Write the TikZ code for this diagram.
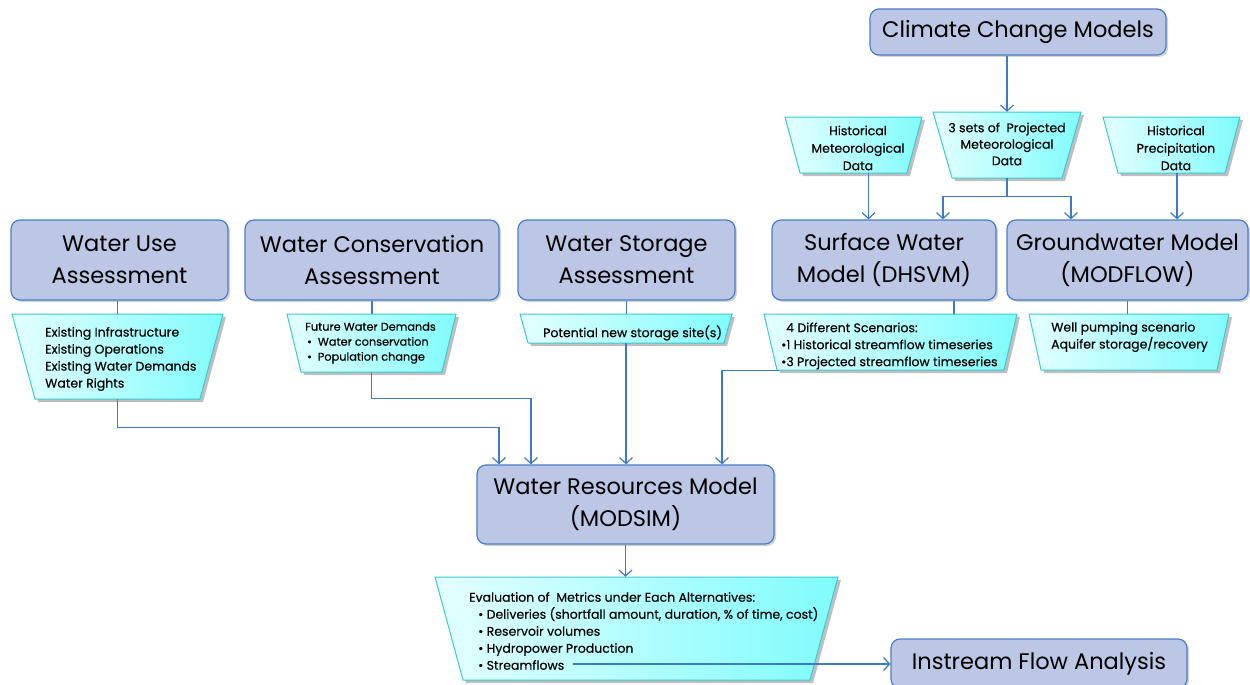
\documentclass[tikz,border=0pt]{standalone}
\usepackage{fontspec}
\setmainfont{Poppins}
\newfontfamily\smallfont[FakeBold=0.4]{Poppins}
\usetikzlibrary{arrows.meta,shadows,calc}
\definecolor{boxfill}{HTML}{BCC6E5}
\definecolor{boxline}{HTML}{4A7EC8}
\definecolor{connc}{HTML}{3A7BCB}
\definecolor{trapL}{HTML}{E4FFFF}
\definecolor{trapR}{HTML}{80FCFC}
\definecolor{trapline}{HTML}{3CC8D2}
\tikzset{
 box/.style={draw=boxline, line width=1.2pt, fill=boxfill, rounded corners=9pt,
   drop shadow={opacity=0.35, shadow xshift=2pt, shadow yshift=-2pt},
   inner sep=0pt, align=center, font=\fontsize{22.5}{32}\selectfont},
 conn/.style={draw=connc, line width=1.2pt},
 arr/.style={conn, -{Straight Barb[length=6pt,width=13pt,line width=1.2pt]}},
 small/.style={font=\smallfont\fontsize{12.5}{17}\selectfont, align=left, inner sep=0pt},
}
\newcommand\mytrap[6]{%
 \fill[black,opacity=0.25] (#2+3,#3+3) -- (#4+3,#3+3) -- (#4-#6+3,#5+3) -- (#2+#6+3,#5+3) -- cycle;
 \path[draw=trapline, line width=1pt, left color=trapL, right color=trapR]
   (#2,#3) -- (#4,#3) -- (#4-#6,#5) -- (#2+#6,#5) -- cycle;
 \node[inner sep=0pt, minimum width=#4-#2, minimum height=#5-#3] (#1) at ({(#2+#4)/2},{(#3+#5)/2}) {};
}
\begin{document}
\begin{tikzpicture}[x=1pt,y=-1pt]
\useasboundingbox (0,0) rectangle (1250,685);
% boxes
\node[box, minimum width=296, minimum height=46] (clim) at (1018,32) {Climate Change Models};
\node[box, minimum width=217, minimum height=80] (wuse) at (119.5,260) {Water Use\\Assessment};
\node[box, minimum width=254, minimum height=80] (wcons) at (372,260) {Water Conservation\\Assessment};
\node[box, minimum width=217, minimum height=80] (wstor) at (626.5,260) {Water Storage\\Assessment};
\node[box, minimum width=224, minimum height=80] (surf) at (884,260) {Surface Water\\Model (DHSVM)};
\node[box, minimum width=241, minimum height=80] (gw) at (1127.5,260) {Groundwater Model\\(MODFLOW)};
\node[box, minimum width=297, minimum height=79] (modsim) at (625.5,504.5) {Water Resources Model\\(MODSIM)};
\node[box, minimum width=296, minimum height=49] (instream) at (1039,663.5) {Instream Flow Analysis};
% trapezoids
\mytrap{hmet}{785}{117}{922}{173}{15}
\mytrap{proj}{933}{112}{1081}{178}{19}
\mytrap{prec}{1103}{117}{1240}{173}{15}
\mytrap{twu}{12}{314}{223}{399}{23}
\mytrap{twc}{287}{314}{456}{372}{14}
\mytrap{tws}{520}{314}{732}{343}{8}
\mytrap{tsf}{764}{314}{1017}{370}{13}
\mytrap{tgw}{1029}{314}{1229}{370}{12}
\mytrap{tev}{435}{577}{838}{680}{28}
% trapezoid texts
\node[small, align=center, font=\smallfont\fontsize{12.5}{17.5}\selectfont] (hmet-t) at (858,148) {Historical\\Meteorological\\Data};
\node[small, align=center, font=\smallfont\fontsize{12.5}{16.5}\selectfont] (proj-t) at (1007,144) {3 sets of~ Projected\\Meteorological\\Data};
\node[small, align=center, font=\smallfont\fontsize{12.5}{17.5}\selectfont] (prec-t) at (1176,148) {Historical\\Precipitation\\Data};
\node[small, anchor=west] (twu-t) at (45,359) {Existing Infrastructure\\Existing Operations\\Existing Water Demands\\Water Rights};
\node[small, anchor=west, font=\smallfont\fontsize{11.3}{15}\selectfont] (twc-t) at (305,343) {Future Water Demands\\\hspace*{2pt}•\hspace{6pt}Water conservation\\\hspace*{2pt}•\hspace{6pt}Population change};
\node[small, anchor=west] (tws-t) at (543,333) {Potential new storage site(s)};
\node[small, anchor=west] (tsf-t) at (781,346) {\hspace*{5pt}4 Different Scenarios:\\•1 Historical streamflow timeseries\\•3 Projected streamflow timeseries};
\node[small, anchor=west] (tgw-t) at (1051,337) {Well pumping scenario\\Aquifer storage/recovery};
\node[small, anchor=west] (tev-t) at (469,631) {Evaluation of~ Metrics under Each Alternatives:\\\hspace*{9pt}• Deliveries (shortfall amount, duration, \% of time, cost)\\\hspace*{9pt}• Reservoir volumes\\\hspace*{9pt}• Hydropower Production\\\hspace*{9pt}• Streamflows};
\coordinate (sf) at (573,664);
% connectors top
\draw[arr] (clim.south -| proj.north) -- (proj.north);
\draw[arr] ([xshift=15pt]hmet.south) -- ([xshift=15pt]hmet.south |- surf.north);
\draw[arr] ([xshift=5.5pt]prec.south) -- ([xshift=5.5pt]prec.south |- gw.north);
\draw[conn] (proj.south) -- ++(0,18) coordinate (pj);
\draw[arr] (pj) -| ([xshift=59pt]surf.north);
\draw[arr] (pj) -| ([xshift=-56.5pt]gw.north);
% box to trapezoid
\draw[conn] ([xshift=-2pt]wuse.south) -- ([xshift=-2pt]wuse.south |- twu.north);
\draw[conn] (wcons.south) -- (wcons.south |- twc.north);
\draw[conn] (wstor.south) -- (wstor.south |- tws.north);
\draw[conn] ([xshift=70pt]surf.south) -- ([xshift=70pt]surf.south |- tsf.north);
\draw[conn] (gw.south) -- (gw.south |- tgw.north);
% trapezoid to modsim
\draw[arr] (twu.south) -- ++(0,28) -| ([xshift=-126.5pt]modsim.north);
\draw[arr] (twc.south) -- ++(0,26) -| ([xshift=-94.5pt]modsim.north);
\draw[arr] (tws.south) -- (tws.south |- modsim.north);
\draw[arr] ([xshift=15pt]tsf.south west) -| ([xshift=96.5pt]modsim.north);
\draw[arr] (modsim.south) -- (modsim.south |- tev.north);
\draw[arr] (sf) -- (sf -| instream.west);
\end{tikzpicture}
\end{document}
